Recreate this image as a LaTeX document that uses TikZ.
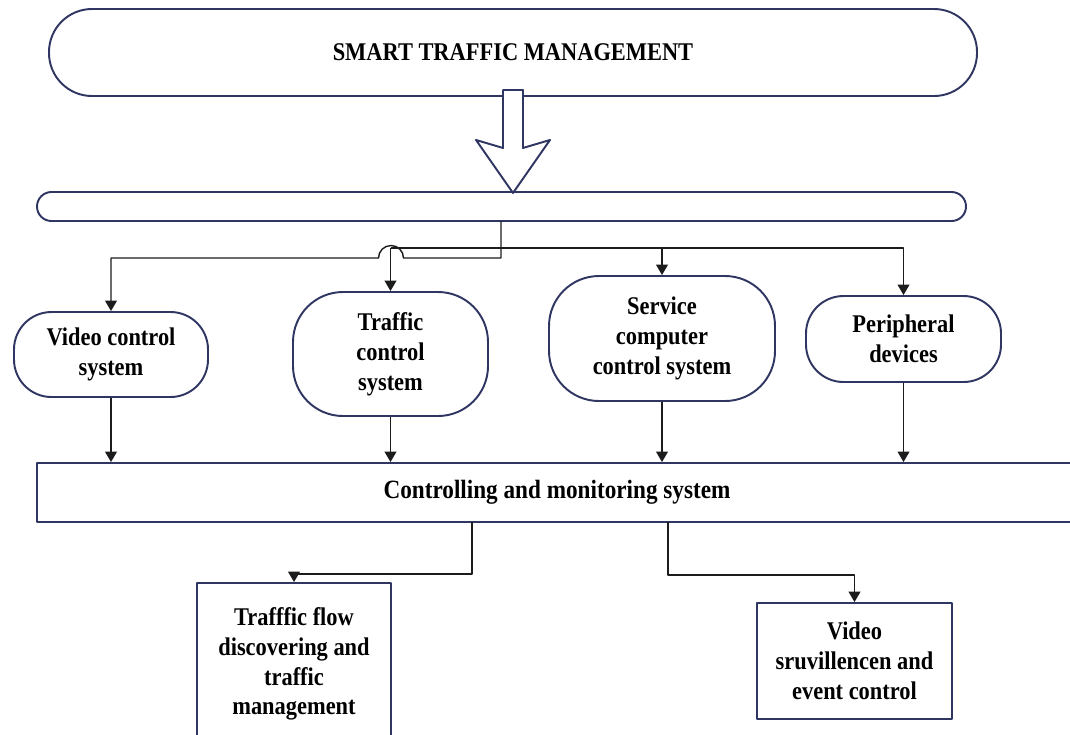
\documentclass[tikz,border=0pt]{standalone}
\usepackage{fontspec}
\setmainfont{Liberation Serif}[FakeStretch=0.88]
\usetikzlibrary{arrows.meta}
\definecolor{rim}{RGB}{47,54,98}
\definecolor{ink}{RGB}{28,28,28}

\begin{document}
\begin{tikzpicture}[>={Triangle[length=6pt,width=6.8pt]},line join=round]
  \tikzstyle{unit}=[draw=rim,line width=1.1pt,fill=white,align=center,inner sep=0pt,font=\bfseries\fontsize{14.5}{17}\selectfont]
  \tikzstyle{link}=[draw=ink,line width=0.8pt]
  \useasboundingbox (0,0) rectangle (21.4,-14.68);
  \clip (0,0) rectangle (21.4,-14.68);

  \node[unit,rounded corners=0.86cm,minimum width=18.56cm,minimum height=1.74cm] (STM) at (10.26,-1.05) {SMART TRAFFIC MANAGEMENT};
  \node[unit,rounded corners=0.29cm,minimum width=18.58cm,minimum height=0.58cm] (BUS) at (10.03,-4.13) {};
  \draw[rim,line width=1.1pt,fill=white,shift={(STM.south)}] (-0.2,0.14) -- (0.2,0.14) -- (0.2,-1.02) -- (0.74,-0.86)
    -- (0,-1.92) -- (-0.74,-0.86) -- (-0.2,-1.02) -- cycle;

  \node[unit,rounded corners=0.75cm,minimum width=3.88cm,minimum height=1.7cm] (VCS) at (2.22,-7.09) {Video control\\system};
  \node[unit,rounded corners=1cm,minimum width=3.9cm,minimum height=2.48cm] (TCS) at (7.81,-7.08) {Traffic\\control\\system};
  \node[unit,rounded corners=1cm,minimum width=4.52cm,minimum height=2.5cm] (SCS) at (13.24,-6.77) {Service\\computer\\control system};
  \node[unit,rounded corners=0.75cm,minimum width=3.9cm,minimum height=1.72cm] (PD) at (18.07,-6.78) {Peripheral\\devices};
  \node[unit,minimum width=20.8cm,minimum height=1.18cm,font=\bfseries\fontsize{15}{17}\selectfont] (CMS) at (11.14,-9.85) {Controlling and monitoring system};
  \node[unit,minimum width=3.88cm,minimum height=3.24cm] (TFD) at (5.88,-13.28) {Trafffic flow\\discovering and\\traffic\\management};
  \node[unit,minimum width=3.9cm,minimum height=2.32cm] (VSE) at (17.09,-13.22) {Video\\sruvillencen and\\event control};

  \coordinate (tap) at (10.02,-4.42);
  \coordinate (hop) at (8.07,-5.16);
  \coordinate (fork) at (7.81,-4.96);
  \draw[link,->] (tap) |- (hop) arc (0:180:0.25) -| (VCS.north);
  \draw[link,->] (fork) -- (TCS.north);
  \draw[link,->] (fork -| SCS.north) -- (SCS.north);
  \draw[link,->] (fork) -| (PD.north);

  \draw[link,->] (VCS.south) -- (VCS.south |- CMS.north);
  \draw[link,->] (TCS.south) -- (TCS.south |- CMS.north);
  \draw[link,->] (SCS.south) -- (SCS.south |- CMS.north);
  \draw[link,->] (PD.south) -- (PD.south |- CMS.north);

  \coordinate (out1) at (9.44,-10.44);
  \coordinate (out2) at (13.36,-10.44);
  \draw[link,->] (out1) -- ++(0,-1.04) -| (TFD.north);
  \draw[link,->] (out2) -- ++(0,-1.06) -| (VSE.north);
\end{tikzpicture}
\end{document}
